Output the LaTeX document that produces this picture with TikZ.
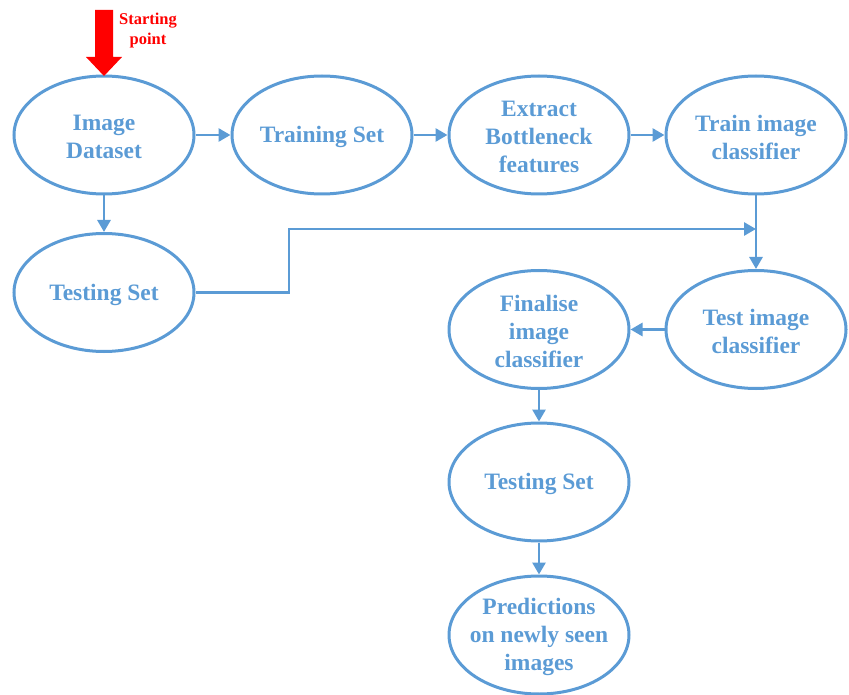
\documentclass[tikz,border=0pt]{standalone}
\usepackage{fontspec}
\setmainfont{Liberation Serif}
\usetikzlibrary{arrows.meta,shapes.geometric}
\definecolor{bl}{HTML}{5B9BD5}
\tikzset{
  ell/.style={ellipse,draw=bl,line width=3pt,minimum width=180pt,minimum height=118pt,inner sep=0pt},
  txt/.style={text=bl,font=\bfseries\fontsize{23.5}{28}\selectfont,align=center,yshift=-2pt},
  conn/.style={draw=bl,line width=2.8pt,-{Triangle[length=12pt,width=13pt]}},
}
\begin{document}
\begin{tikzpicture}[x=1pt,y=-1pt]
\useasboundingbox (0,0) rectangle (849,695);
\node[ell] (ds) at (104,135) {};
\node[txt] at (ds) {Image\\Dataset};
\node[ell] (tr) at (322,135) {};
\node[txt] at (tr) {Training Set};
\node[ell] (ex) at (539,135) {};
\node[txt] at (ex) {Extract\\Bottleneck\\features};
\node[ell] (tc) at (756,135) {};
\node[txt] at (tc) {Train image\\classifier};
\node[ell] (ts) at (104,292.5) {};
\node[txt] at (ts) {Testing Set};
\node[ell] (te) at (756,329.5) {};
\node[txt] at (te) {Test image\\classifier};
\node[ell] (fi) at (539,329.5) {};
\node[txt] at (fi) {Finalise\\image\\classifier};
\node[ell] (ts2) at (539,482) {};
\node[txt] at (ts2) {Testing Set};
\node[ell] (pr) at (539,635) {};
\node[txt] at (pr) {Predictions\\on newly seen\\images};
\coordinate (j) at (756,229);
\draw[conn] (ds) -- (tr);
\draw[conn] (tr) -- (ex);
\draw[conn] (ex) -- (tc);
\draw[conn] (ds) -- (ts);
\draw[conn] (tc) -- (te);
\draw[conn] (ts.east) -- (289,292.5) -- (289,229) -- (j);
\draw[conn] (te) -- (fi);
\draw[conn] (fi) -- (ts2);
\draw[conn] (ts2) -- (pr);
\fill[red] (95,10) -- (113,10) -- (113,57) -- (122,57) -- (104,76) -- (86,57) -- (95,57) -- cycle;
\node[text=red,font=\bfseries\fontsize{16.5}{20}\selectfont,align=center] (sp) at (148,31) {Starting\\point};
\end{tikzpicture}
\end{document}
